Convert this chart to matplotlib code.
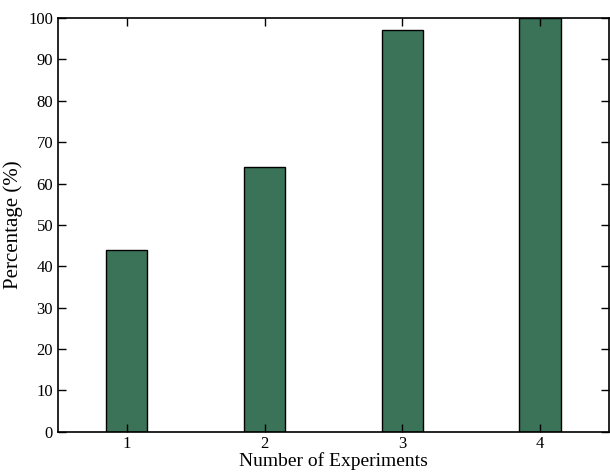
import matplotlib.pyplot as plt

plt.rcParams['font.family'] = ['Liberation Serif', 'DejaVu Serif']

experiments = [1, 2, 3, 4]
percentage = [44, 64, 97, 100]

fig = plt.figure(figsize=(6.1, 4.72), dpi=100)
ax = fig.add_axes([0.095, 0.085, 0.903, 0.877])

ax.bar(experiments, percentage, width=0.3, color='#3b7358',
       edgecolor='black', linewidth=1.0)

ax.set_xlim(0.5, 4.5)
ax.set_ylim(0, 100)
ax.set_xticks(experiments)
ax.set_yticks(range(0, 101, 10))
ax.tick_params(direction='in', top=True, right=True, labelsize=12,
               length=6, width=1)
ax.tick_params(axis='x', pad=3)
for s in ax.spines.values():
    s.set_linewidth(1.2)

ax.set_xlabel('Number of Experiments', fontsize=14, labelpad=0)
ax.set_ylabel('Percentage (%)', fontsize=15, labelpad=4)

fig.savefig('out.png', dpi=100)
